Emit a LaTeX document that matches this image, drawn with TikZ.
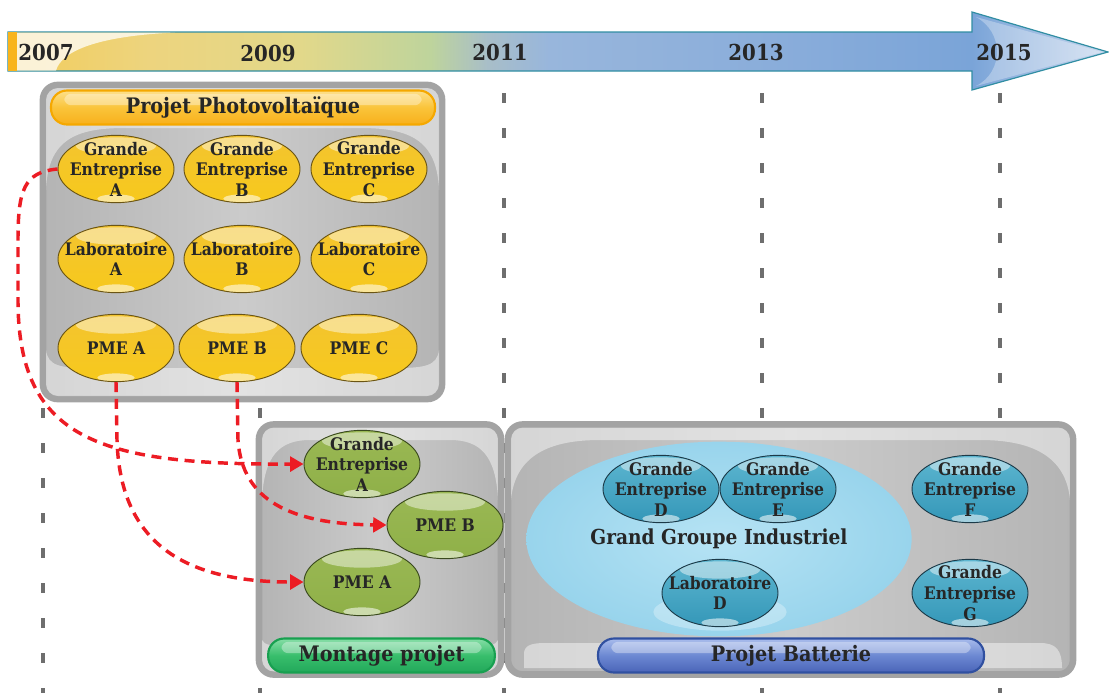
\documentclass[tikz,border=0pt]{standalone}
\usepackage{fontspec}
\setmainfont{DejaVu Serif Condensed}
\usetikzlibrary{shapes.geometric,arrows.meta}
\definecolor{txt}{HTML}{262626}
\definecolor{yb}{HTML}{6B5514}
\definecolor{ym}{HTML}{F3C430}
\definecolor{yd}{HTML}{F7C91C}
\definecolor{gb}{HTML}{3A4A1E}
\definecolor{gm}{HTML}{9AB854}
\definecolor{gd}{HTML}{8FB048}
\definecolor{bb}{HTML}{1C3A48}
\definecolor{bm}{HTML}{5DB6D0}
\definecolor{bd}{HTML}{3497B8}
\definecolor{boxline}{HTML}{A3A3A3}
\definecolor{boxedge}{HTML}{B4B4B4}
\definecolor{boxmid}{HTML}{CBCBCB}
\definecolor{vlinec}{HTML}{6E6E6E}
\definecolor{redarr}{HTML}{EC1C24}
\definecolor{tla}{HTML}{F2CC5A}
\definecolor{tlb}{HTML}{EDD47E}
\definecolor{tlc}{HTML}{E2D88A}
\definecolor{tld}{HTML}{BED49C}
\definecolor{tle}{HTML}{A8BEC8}
\definecolor{tlf}{HTML}{98B6DC}
\definecolor{tlg}{HTML}{88ACDA}
\definecolor{tlh}{HTML}{7AA4D8}
\definecolor{tli}{HTML}{C8D8EE}
\definecolor{pvo}{HTML}{F5A800}
\definecolor{pvt}{HTML}{FDE08A}
\definecolor{pvm}{HTML}{FAC43A}
\definecolor{pvb}{HTML}{F8B01C}
\definecolor{mgo}{HTML}{18A050}
\definecolor{mgt}{HTML}{86DEA6}
\definecolor{mgm}{HTML}{38BE6C}
\definecolor{mgb}{HTML}{22A85A}
\definecolor{pbo}{HTML}{3050A0}
\definecolor{pbt}{HTML}{A8BCEC}
\definecolor{pbm}{HTML}{6C88D2}
\definecolor{pbb}{HTML}{4A64B8}
\definecolor{ggin}{HTML}{B6E3F4}
\definecolor{ggout}{HTML}{98D4EC}
\definecolor{strip}{HTML}{F8B41C}
\pgfdeclarehorizontalshading{timeline}{100bp}{color(0bp)=(tla); color(25bp)=(tla); color(31.4bp)=(tlb); color(38.3bp)=(tlc); color(44.2bp)=(tld); color(46.8bp)=(tle); color(49.6bp)=(tlf); color(61bp)=(tlg); color(68.8bp)=(tlh); color(75bp)=(tli); color(100bp)=(tli)}
\tikzset{
  ltxt/.style={align=center, inner sep=0pt, text=txt, font=\bfseries\fontsize{13}{15.4}\selectfont},
  ell/.style={ellipse, inner sep=0pt, minimum width=87pt, minimum height=50.5pt, line width=0.7pt,
    label={[ltxt]center:#1},
    path picture={\fill[white,opacity=.45] ([yshift=-8pt]path picture bounding box.north) ellipse (30pt and 6.5pt);
                  \fill[white,opacity=.55] ([yshift=3pt]path picture bounding box.south) ellipse (14pt and 3.2pt);}},
  yell/.style={ell={#1}, draw=yb, top color=ym, bottom color=yd},
  gell/.style={ell={#1}, draw=gb, top color=gm, bottom color=gd},
  bell/.style={ell={#1}, draw=bb, top color=bm, bottom color=bd},
  boxst/.style={rounded corners=11pt, line width=5pt, draw=boxline, left color=boxedge, right color=boxedge, middle color=boxmid},
  gloss/.style={white, opacity=.45},
  pillst/.style={rounded corners=12pt, minimum height=25.5pt, inner sep=0pt, line width=1.6pt, text=txt,
    font=\bfseries\fontsize{16}{18}\selectfont,
    path picture={\fill[white,opacity=.35, rounded corners=5pt] ([xshift=10pt,yshift=-2.5pt]path picture bounding box.north west) rectangle ([xshift=-10pt,yshift=-11pt]path picture bounding box.north east);}},
  year/.style={text=txt, inner sep=0pt, font=\bfseries\fontsize{16.5}{18}\selectfont},
  vguide/.style={draw=vlinec, line width=3pt, dash pattern=on 7.5pt off 18.75pt},
  redline/.style={draw=redarr, line width=2.6pt, dash pattern=on 7.5pt off 5pt, -{Triangle[length=10pt,width=11pt]}},
}
\begin{document}
\begin{tikzpicture}[x=0.75pt,y=-0.75pt]
\useasboundingbox (0,0) rectangle (1109,693);
% vertical guides
\foreach \gx in {43,260,504,762,1000}{\draw[vguide] (\gx,93) -- (\gx,693);}
% timeline
\shadedraw[shading=timeline, draw=teal!60!tlh, line width=0.9pt] (8,32) -- (972,32) -- (972,12) -- (1108,52) -- (972,90) -- (972,71) -- (8,71) -- cycle;
\fill[white,opacity=.75] (17,32.5) -- (175,32.5) .. controls (100,36) and (62,50) .. (56,70.5) -- (17,70.5) -- cycle;
\fill[white,opacity=.3] (976,17) -- (1102,52) -- (976,86) .. controls (1004,72) and (1004,32) .. (976,17) -- cycle;
\fill[strip] (8,32) rectangle (17,71);
\node[year] (y07) at (46,52) {2007};
\node[year] (y09) at (268,53) {2009};
\node[year] (y11) at (500,52) {2011};
\node[year] (y13) at (756,52) {2013};
\node[year] (y15) at (1004,52) {2015};
% boxes
\draw[boxst] (43,85) rectangle (442,399);
\begin{scope}
\clip[rounded corners=9pt] (46,88) rectangle (439,396);
\fill[gloss] (46,88) -- (439,88) -- (439,190) .. controls (437,140) and (410,128) .. (360,128) -- (125,128) .. controls (75,128) and (48,140) .. (46,190) -- cycle;
\fill[gloss] (46,396) -- (46,350) .. controls (48,366) and (60,368) .. (90,368) -- (395,368) .. controls (425,368) and (437,366) .. (439,350) -- (439,396) -- cycle;
\end{scope}
\draw[boxst] (259,424.5) rectangle (501,674.5);
\begin{scope}
\clip[rounded corners=9pt] (262,427.5) rectangle (498,671.5);
\fill[gloss] (262,427.5) -- (498,427.5) -- (498,500) .. controls (496,455) and (480,440) .. (450,440) -- (310,440) .. controls (280,440) and (264,455) .. (262,500) -- cycle;
\fill[gloss] (262,671.5) -- (262,640) .. controls (264,645) and (272,646) .. (285,646) -- (475,646) .. controls (490,646) and (496,645) .. (498,640) -- (498,671.5) -- cycle;
\end{scope}
\draw[boxst] (508,424.5) rectangle (1073,674.5);
\begin{scope}
\clip[rounded corners=9pt] (511,427.5) rectangle (1070,671.5);
\fill[gloss] (511,427.5) -- (1070,427.5) -- (1070,500) .. controls (1066,455) and (1030,440) .. (980,440) -- (600,440) .. controls (550,440) and (515,455) .. (511,500) -- cycle;
\fill[gloss] (524,668) -- (524,654) .. controls (524,646) and (530,643) .. (545,643) -- (1040,643) .. controls (1056,643) and (1062,650) .. (1062,668) -- cycle;
\end{scope}
% title pills
\node[pillst, minimum width=288pt, draw=pvo, top color=pvt, bottom color=pvb, middle color=pvm] (pvtitle) at (243,107.5) {Projet Photovoltaïque};
\node[pillst, minimum width=170pt, draw=mgo, top color=mgt, bottom color=mgb, middle color=mgm] (mptitle) at (381.5,655.5) {Montage projet};
\node[pillst, minimum width=289.5pt, draw=pbo, top color=pbt, bottom color=pbb, middle color=pbm] (pbtitle) at (791,655.5) {Projet Batterie};
% photovoltaic ellipses
\node[yell={Grande\\Entreprise\\A}] (pga) at (116,169) {};
\node[yell={Grande\\Entreprise\\B}] (pgb) at (242,169) {};
\node[yell={Grande\\Entreprise\\C}] (pgc) at (369,169) {};
\node[yell={Laboratoire\\A}] (pla) at (116,259) {};
\node[yell={Laboratoire\\B}] (plb) at (242,259) {};
\node[yell={Laboratoire\\C}] (plc) at (369,259) {};
\node[yell={PME A}] (pma) at (116,348) {};
\node[yell={PME B}] (pmb) at (237,348) {};
\node[yell={PME C}] (pmc) at (359,348) {};
% montage ellipses
\node[gell={Grande\\Entreprise\\A}] (mga) at (362,464) {};
\node[gell={PME B}] (mmb) at (445,525) {};
\node[gell={PME A}] (mma) at (362,582) {};
% battery
\node[ellipse, minimum width=289pt, minimum height=146pt, inner sep=0pt, inner color=ggin, outer color=ggout, text=txt, font=\bfseries\fontsize{15.5}{18}\selectfont] (ggi) at (719,539) {Grand Groupe Industriel};
\fill[white,opacity=.3] (720,612) ellipse (50pt and 14pt);
\node[bell={Grande\\Entreprise\\D}] (bgd) at (661,489) {};
\node[bell={Grande\\Entreprise\\E}] (bge) at (778,489) {};
\node[bell={Grande\\Entreprise\\F}] (bgf) at (970,489) {};
\node[bell={Laboratoire\\D}] (bld) at (720,593) {};
\node[bell={Grande\\Entreprise\\G}] (bgg) at (970,593) {};
% red arrows
\draw[redline] (pga.west) .. controls (24,172) and (18,190) .. (18,240) -- (18,300) .. controls (18,440) and (100,465) .. (mga.west);
\draw[redline] (pma.south) -- (117,440) .. controls (120,540) and (180,582) .. (mma.west);
\draw[redline] (pmb.south) -- (238,440) .. controls (242,500) and (290,524) .. (mmb.west);
\end{tikzpicture}
\end{document}
